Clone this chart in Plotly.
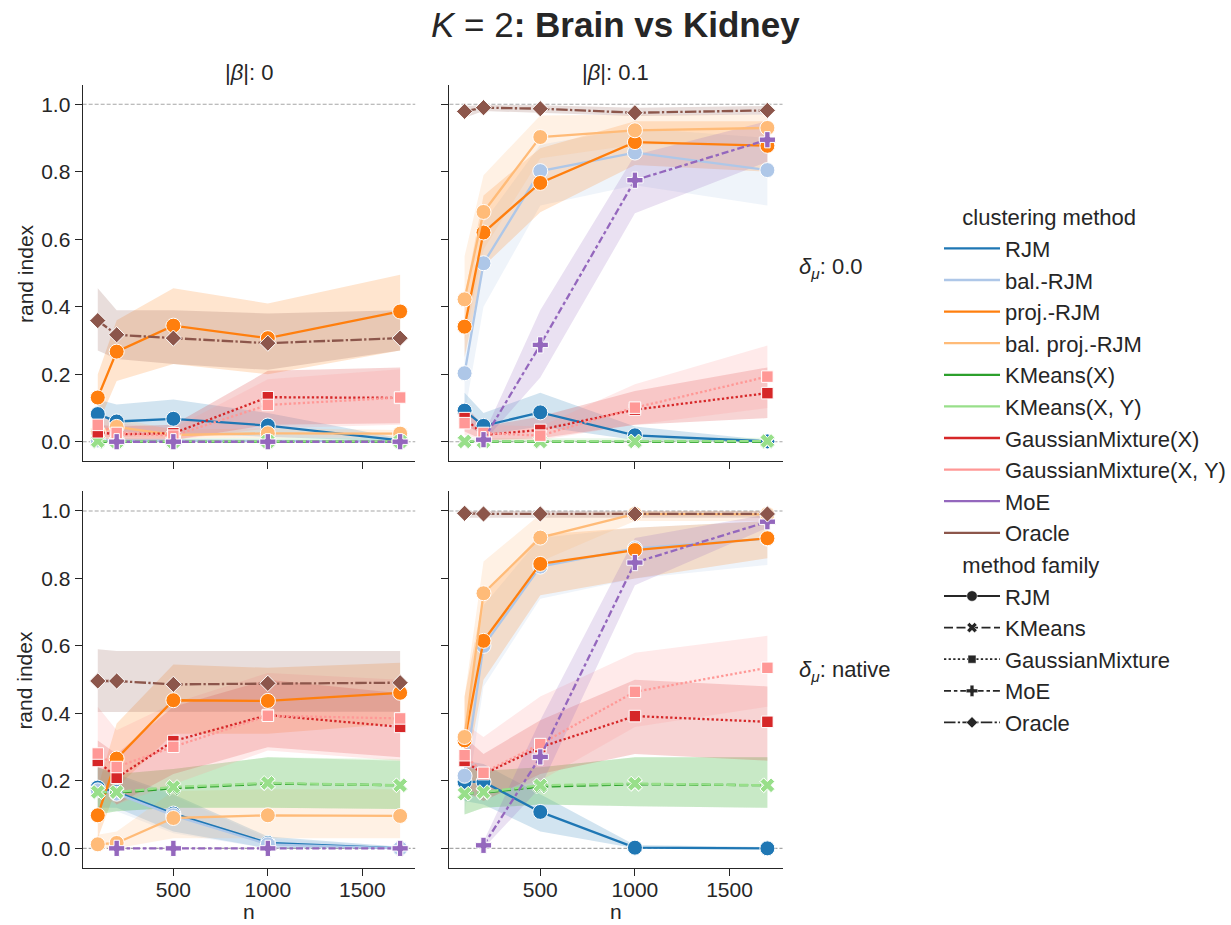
import plotly.graph_objects as go

# ---------------------------------------------------------------- data
N_VALUES = [100, 200, 500, 1000, 1700]

METHODS = ["RJM", "bal.-RJM", "proj.-RJM", "bal. proj.-RJM", "KMeans(X)",
           "KMeans(X, Y)", "GaussianMixture(X)", "GaussianMixture(X, Y)",
           "MoE", "Oracle"]
FAMILIES = ["RJM", "KMeans", "GaussianMixture", "MoE", "Oracle"]
METHOD_FAMILY = ["RJM", "RJM", "RJM", "RJM", "KMeans", "KMeans",
                 "GaussianMixture", "GaussianMixture", "MoE", "Oracle"]

# |beta| = 0, delta_mu = 0.0
MEAN_B0_D0 = {
    "RJM": [0.082, 0.060, 0.068, 0.048, 0.004],
    "bal.-RJM": [0.004, 0.003, 0.003, 0.002, 0.001],
    "proj.-RJM": [0.131, 0.267, 0.344, 0.307, 0.386],
    "bal. proj.-RJM": [0.030, 0.044, 0.020, 0.025, 0.024],
    "KMeans(X)": [0.000, 0.000, 0.000, 0.000, 0.000],
    "KMeans(X, Y)": [0.002, 0.001, 0.001, 0.001, 0.001],
    "GaussianMixture(X)": [0.028, 0.022, 0.025, 0.132, 0.130],
    "GaussianMixture(X, Y)": [0.050, 0.026, 0.018, 0.109, 0.131],
    "MoE": [None, 0.000, 0.000, 0.000, 0.000],
    "Oracle": [0.359, 0.317, 0.307, 0.292, 0.307],
}
LO_B0_D0 = {
    "RJM": [0.040, 0.030, 0.025, 0.015, 0.000],
    "bal.-RJM": [0.000, 0.000, 0.000, 0.000, 0.000],
    "proj.-RJM": [0.050, 0.180, 0.230, 0.200, 0.270],
    "bal. proj.-RJM": [0.010, 0.015, 0.010, 0.012, 0.012],
    "KMeans(X)": [0.000, 0.000, 0.000, 0.000, 0.000],
    "KMeans(X, Y)": [0.000, 0.000, 0.000, 0.000, 0.000],
    "GaussianMixture(X)": [0.010, 0.005, 0.005, 0.050, 0.055],
    "GaussianMixture(X, Y)": [0.020, 0.005, 0.005, 0.040, 0.050],
    "MoE": [None, 0.000, 0.000, 0.000, 0.000],
    "Oracle": [0.270, 0.245, 0.230, 0.213, 0.270],
}
HI_B0_D0 = {
    "RJM": [0.125, 0.110, 0.125, 0.085, 0.010],
    "bal.-RJM": [0.010, 0.008, 0.006, 0.005, 0.003],
    "proj.-RJM": [0.200, 0.360, 0.455, 0.410, 0.495],
    "bal. proj.-RJM": [0.060, 0.070, 0.035, 0.040, 0.035],
    "KMeans(X)": [0.005, 0.005, 0.005, 0.005, 0.005],
    "KMeans(X, Y)": [0.012, 0.010, 0.010, 0.012, 0.010],
    "GaussianMixture(X)": [0.050, 0.045, 0.050, 0.210, 0.220],
    "GaussianMixture(X, Y)": [0.085, 0.055, 0.040, 0.185, 0.215],
    "MoE": [None, 0.002, 0.002, 0.002, 0.002],
    "Oracle": [0.455, 0.390, 0.390, 0.380, 0.390],
}

# |beta| = 0.1, delta_mu = 0.0
MEAN_B1_D0 = {
    "RJM": [0.092, 0.047, 0.087, 0.019, 0.001],
    "bal.-RJM": [0.203, 0.529, 0.802, 0.857, 0.805],
    "proj.-RJM": [0.341, 0.620, 0.767, 0.888, 0.877],
    "bal. proj.-RJM": [0.422, 0.681, 0.903, 0.923, 0.930],
    "KMeans(X)": [0.000, 0.000, 0.000, 0.000, 0.000],
    "KMeans(X, Y)": [0.001, 0.001, 0.001, 0.001, 0.002],
    "GaussianMixture(X)": [0.070, 0.020, 0.035, 0.095, 0.144],
    "GaussianMixture(X, Y)": [0.055, 0.026, 0.018, 0.101, 0.193],
    "MoE": [None, 0.006, 0.287, 0.775, 0.895],
    "Oracle": [0.979, 0.990, 0.987, 0.975, 0.982],
}
LO_B1_D0 = {
    "RJM": [0.050, 0.020, 0.045, 0.005, 0.000],
    "bal.-RJM": [0.080, 0.400, 0.700, 0.760, 0.700],
    "proj.-RJM": [0.250, 0.520, 0.680, 0.820, 0.800],
    "bal. proj.-RJM": [0.300, 0.570, 0.840, 0.880, 0.880],
    "KMeans(X)": [0.000, 0.000, 0.000, 0.000, 0.000],
    "KMeans(X, Y)": [0.000, 0.000, 0.000, 0.000, 0.000],
    "GaussianMixture(X)": [0.030, 0.005, 0.010, 0.050, 0.070],
    "GaussianMixture(X, Y)": [0.020, 0.005, 0.005, 0.050, 0.100],
    "MoE": [None, 0.000, 0.190, 0.677, 0.830],
    "Oracle": [0.960, 0.980, 0.975, 0.965, 0.970],
}
HI_B1_D0 = {
    "RJM": [0.145, 0.085, 0.145, 0.045, 0.005],
    "bal.-RJM": [0.310, 0.650, 0.880, 0.930, 0.900],
    "proj.-RJM": [0.430, 0.730, 0.870, 0.950, 0.950],
    "bal. proj.-RJM": [0.550, 0.790, 0.967, 0.970, 0.970],
    "KMeans(X)": [0.004, 0.004, 0.004, 0.004, 0.004],
    "KMeans(X, Y)": [0.010, 0.010, 0.008, 0.010, 0.012],
    "GaussianMixture(X)": [0.110, 0.045, 0.075, 0.150, 0.220],
    "GaussianMixture(X, Y)": [0.090, 0.050, 0.045, 0.170, 0.285],
    "MoE": [None, 0.020, 0.390, 0.850, 0.950],
    "Oracle": [0.995, 0.998, 0.997, 0.990, 0.995],
}

# |beta| = 0, delta_mu = native
MEAN_B0_DN = {
    "RJM": [0.180, 0.167, 0.103, 0.016, 0.000],
    "bal.-RJM": [0.172, 0.162, 0.098, 0.012, 0.000],
    "proj.-RJM": [0.098, 0.266, 0.439, 0.437, 0.461],
    "bal. proj.-RJM": [0.012, 0.016, 0.090, 0.098, 0.096],
    "KMeans(X)": [0.167, 0.165, 0.178, 0.192, 0.187],
    "KMeans(X, Y)": [0.167, 0.167, 0.182, 0.194, 0.187],
    "GaussianMixture(X)": [0.259, 0.209, 0.318, 0.395, 0.360],
    "GaussianMixture(X, Y)": [0.281, 0.241, 0.301, 0.393, 0.385],
    "MoE": [None, 0.000, 0.000, 0.000, 0.000],
    "Oracle": [0.496, 0.496, 0.486, 0.489, 0.491],
}
LO_B0_DN = {
    "RJM": [0.120, 0.120, 0.050, 0.000, 0.000],
    "bal.-RJM": [0.110, 0.110, 0.045, 0.000, 0.000],
    "proj.-RJM": [0.030, 0.180, 0.340, 0.340, 0.370],
    "bal. proj.-RJM": [0.000, 0.000, 0.030, 0.030, 0.030],
    "KMeans(X)": [0.100, 0.110, 0.120, 0.120, 0.117],
    "KMeans(X, Y)": [0.100, 0.110, 0.120, 0.120, 0.117],
    "GaussianMixture(X)": [0.200, 0.130, 0.220, 0.300, 0.270],
    "GaussianMixture(X, Y)": [0.160, 0.130, 0.190, 0.290, 0.260],
    "MoE": [None, 0.000, 0.000, 0.000, 0.000],
    "Oracle": [0.404, 0.404, 0.405, 0.405, 0.405],
}
HI_B0_DN = {
    "RJM": [0.240, 0.220, 0.160, 0.035, 0.005],
    "bal.-RJM": [0.235, 0.215, 0.155, 0.030, 0.004],
    "proj.-RJM": [0.180, 0.370, 0.545, 0.535, 0.550],
    "bal. proj.-RJM": [0.040, 0.050, 0.170, 0.175, 0.175],
    "KMeans(X)": [0.240, 0.220, 0.235, 0.270, 0.260],
    "KMeans(X, Y)": [0.240, 0.220, 0.235, 0.270, 0.265],
    "GaussianMixture(X)": [0.320, 0.280, 0.420, 0.500, 0.460],
    "GaussianMixture(X, Y)": [0.420, 0.350, 0.430, 0.520, 0.500],
    "MoE": [None, 0.002, 0.002, 0.002, 0.002],
    "Oracle": [0.590, 0.585, 0.585, 0.585, 0.585],
}

# |beta| = 0.1, delta_mu = native
MEAN_B1_DN = {
    "RJM": [0.197, 0.197, 0.108, 0.002, 0.000],
    "bal.-RJM": [0.215, 0.600, 0.835, 0.889, 0.918],
    "proj.-RJM": [0.320, 0.615, 0.843, 0.884, 0.919],
    "bal. proj.-RJM": [0.330, 0.756, 0.921, 0.991, 0.990],
    "KMeans(X)": [0.162, 0.165, 0.183, 0.190, 0.187],
    "KMeans(X, Y)": [0.162, 0.167, 0.187, 0.192, 0.187],
    "GaussianMixture(X)": [0.259, 0.220, 0.300, 0.392, 0.375],
    "GaussianMixture(X, Y)": [0.276, 0.224, 0.309, 0.464, 0.535],
    "MoE": [None, 0.009, 0.271, 0.847, 0.968],
    "Oracle": [0.993, 0.991, 0.991, 0.991, 0.991],
}
LO_B1_DN = {
    "RJM": [0.140, 0.130, 0.050, 0.000, 0.000],
    "bal.-RJM": [0.100, 0.480, 0.740, 0.800, 0.840],
    "proj.-RJM": [0.200, 0.500, 0.750, 0.800, 0.860],
    "bal. proj.-RJM": [0.200, 0.600, 0.850, 0.970, 0.970],
    "KMeans(X)": [0.100, 0.120, 0.130, 0.125, 0.120],
    "KMeans(X, Y)": [0.100, 0.120, 0.130, 0.125, 0.120],
    "GaussianMixture(X)": [0.170, 0.140, 0.220, 0.280, 0.260],
    "GaussianMixture(X, Y)": [0.180, 0.160, 0.200, 0.360, 0.420],
    "MoE": [None, 0.000, 0.180, 0.780, 0.950],
    "Oracle": [0.980, 0.980, 0.980, 0.980, 0.980],
}
HI_B1_DN = {
    "RJM": [0.260, 0.250, 0.160, 0.010, 0.004],
    "bal.-RJM": [0.330, 0.720, 0.920, 0.950, 0.970],
    "proj.-RJM": [0.450, 0.750, 0.930, 0.950, 0.970],
    "bal. proj.-RJM": [0.450, 0.850, 0.990, 1.000, 1.000],
    "KMeans(X)": [0.240, 0.230, 0.240, 0.270, 0.270],
    "KMeans(X, Y)": [0.240, 0.230, 0.240, 0.270, 0.270],
    "GaussianMixture(X)": [0.330, 0.280, 0.380, 0.500, 0.480],
    "GaussianMixture(X, Y)": [0.370, 0.330, 0.450, 0.580, 0.630],
    "MoE": [None, 0.020, 0.380, 0.920, 0.990],
    "Oracle": [1.000, 1.000, 1.000, 1.000, 1.000],
}

# ---------------------------------------------------------------- styles
COLORS = {
    "RJM": "#1f77b4", "bal.-RJM": "#aec7e8", "proj.-RJM": "#ff7f0e",
    "bal. proj.-RJM": "#ffbb78", "KMeans(X)": "#2ca02c",
    "KMeans(X, Y)": "#98df8a", "GaussianMixture(X)": "#d62728",
    "GaussianMixture(X, Y)": "#ff9896", "MoE": "#9467bd", "Oracle": "#8c564b",
}
LW = 2.3
FAMILY_DASH = {
    "RJM": "solid",
    "KMeans": "9px,3.5px",
    "GaussianMixture": "2.3px,2.3px",
    "MoE": "7px,2.9px,3.5px,2.9px",
    "Oracle": "11.5px,2.3px,2.3px,2.3px",
}
FAMILY_SYMBOL = {"RJM": "circle", "KMeans": "x", "GaussianMixture": "square",
                 "MoE": "cross", "Oracle": "diamond"}
FAMILY_SIZE = {"RJM": 15, "KMeans": 13, "GaussianMixture": 11.5,
               "MoE": 13.5, "Oracle": 12.5}
INK = "#262626"
FONT = "Liberation Sans, Arial, Helvetica, sans-serif"
TICK_SIZE = 21
LABEL_SIZE = 21
LEGEND_SIZE = 22
FACET_SIZE = 22


def rgba(hex_color, alpha):
    h = hex_color.lstrip("#")
    r, g, b = int(h[0:2], 16), int(h[2:4], 16), int(h[4:6], 16)
    return f"rgba({r},{g},{b},{alpha})"


PANELS = [
    ("x", "y", MEAN_B0_D0, LO_B0_D0, HI_B0_D0),
    ("x2", "y2", MEAN_B1_D0, LO_B1_D0, HI_B1_D0),
    ("x3", "y3", MEAN_B0_DN, LO_B0_DN, HI_B0_DN),
    ("x4", "y4", MEAN_B1_DN, LO_B1_DN, HI_B1_DN),
]

fig = go.Figure()

for xa, ya, mean, lo, hi in PANELS:
    # confidence bands underneath every line
    for m in METHODS:
        pts = [(n, l, h) for n, l, h in zip(N_VALUES, lo[m], hi[m]) if l is not None]
        xs = [p[0] for p in pts] + [p[0] for p in reversed(pts)]
        ys = [p[2] for p in pts] + [p[1] for p in reversed(pts)]
        fig.add_trace(go.Scatter(
            x=xs, y=ys, xaxis=xa, yaxis=ya, mode="lines", fill="toself",
            fillcolor=rgba(COLORS[m], 0.2), line=dict(width=0),
            hoverinfo="skip", showlegend=False))
    # mean lines with markers
    for m, fam in zip(METHODS, METHOD_FAMILY):
        fig.add_trace(go.Scatter(
            x=N_VALUES, y=mean[m], xaxis=xa, yaxis=ya, mode="lines+markers",
            line=dict(color=COLORS[m], width=LW, dash=FAMILY_DASH[fam]),
            marker=dict(symbol=FAMILY_SYMBOL[fam], size=FAMILY_SIZE[fam],
                        color=COLORS[m], line=dict(color="white", width=1)),
            name=m, showlegend=False))

# legend entries: hue (clustering method) and style (method family)
GROUP_TITLE_FONT = dict(size=LEGEND_SIZE, color=INK, family=FONT)
for m in METHODS:
    fig.add_trace(go.Scatter(
        x=[None], y=[None], mode="lines", name=m,
        line=dict(color=COLORS[m], width=LW),
        legendgroup="hue",
        legendgrouptitle=dict(text="&nbsp;&nbsp;&nbsp;clustering method",
                              font=GROUP_TITLE_FONT)))
for f in FAMILIES:
    fig.add_trace(go.Scatter(
        x=[None], y=[None], mode="lines+markers", name=f,
        line=dict(color=INK, width=LW * 0.8, dash=FAMILY_DASH[f]),
        marker=dict(symbol=FAMILY_SYMBOL[f], size=FAMILY_SIZE[f] * 0.7,
                    color=INK, line=dict(color="white", width=0.5)),
        legendgroup="style",
        legendgrouptitle=dict(text="&nbsp;&nbsp;&nbsp;method family",
                              font=GROUP_TITLE_FONT)))

# ---------------------------------------------------------------- layout
X_DOMAINS = [[0.0672, 0.3376], [0.3654, 0.6362]]
Y_DOMAINS = [[0.5013, 0.9084], [0.0617, 0.4688]]
X_RANGE = [20, 1780]
Y_RANGE = [-0.058, 1.058]

axis_common = dict(
    showline=True, linecolor=INK, linewidth=1.25, ticks="outside",
    ticklen=7, tickwidth=1.25, tickcolor=INK, showgrid=False,
    zeroline=False, automargin=False,
    tickfont=dict(size=TICK_SIZE, color=INK, family=FONT),
)
label_font = dict(size=LABEL_SIZE, color=INK, family=FONT)

layout_axes = {}
for i, (row, col) in enumerate([(0, 0), (0, 1), (1, 0), (1, 1)]):
    k = "" if i == 0 else str(i + 1)
    layout_axes["xaxis" + k] = dict(
        axis_common, domain=X_DOMAINS[col], range=X_RANGE,
        tickvals=[500, 1000, 1500], showticklabels=(row == 1),
        ticklabelstandoff=-4, anchor="y" + k)
    layout_axes["yaxis" + k] = dict(
        axis_common, domain=Y_DOMAINS[row], range=Y_RANGE,
        tickvals=[0, 0.2, 0.4, 0.6, 0.8, 1.0], tickformat=".1f",
        showticklabels=(col == 0), anchor="x" + k)

shapes = []
for i in range(4):
    k = "" if i == 0 else str(i + 1)
    for yv in (0, 1):
        shapes.append(dict(
            type="line", xref=f"x{k} domain", yref="y" + k, x0=0, x1=1,
            y0=yv, y1=yv, layer="below",
            line=dict(color="#a6a6a6", width=1.1, dash="4px,2px")))

facet_font = dict(size=FACET_SIZE, color=INK, family=FONT)
annotations = [
    dict(text="<i>K</i> = 2<b>: Brain vs Kidney</b>", x=0.5, y=1 - 25 / 925,
         xref="paper", yref="paper", showarrow=False, xanchor="center",
         yanchor="middle", font=dict(size=35, color=INK, family=FONT)),
    dict(text="|<i>β</i>|: 0", x=sum(X_DOMAINS[0]) / 2, y=1 - 73 / 925,
         xref="paper", yref="paper", showarrow=False, xanchor="center",
         yanchor="middle", font=facet_font),
    dict(text="|<i>β</i>|: 0.1", x=sum(X_DOMAINS[1]) / 2, y=1 - 73 / 925,
         xref="paper", yref="paper", showarrow=False, xanchor="center",
         yanchor="middle", font=facet_font),
    dict(text="<i>δ</i><sub><i>μ</i></sub>: 0.0", x=798 / 1231,
         y=1 - 268 / 925, xref="paper", yref="paper", showarrow=False,
         xanchor="left", yanchor="middle", font=facet_font),
    dict(text="<i>δ</i><sub><i>μ</i></sub>: native", x=798 / 1231,
         y=1 - 671 / 925, xref="paper", yref="paper", showarrow=False,
         xanchor="left", yanchor="middle", font=facet_font),
]
# axis labels: "n" under each bottom panel, "rand index" left of each row
for dom in X_DOMAINS:
    annotations.append(dict(
        text="n", x=sum(dom) / 2, y=1 - 911 / 925, xref="paper",
        yref="paper", showarrow=False, xanchor="center", yanchor="middle",
        borderpad=0, font=label_font))
for dom in Y_DOMAINS:
    annotations.append(dict(
        text="rand index", x=25 / 1231, y=sum(dom) / 2, xref="paper",
        yref="paper", showarrow=False, xanchor="center", yanchor="middle",
        textangle=-90, font=label_font))

fig.update_layout(
    width=1231, height=925,
    margin=dict(l=0, r=0, t=0, b=0),
    paper_bgcolor="white", plot_bgcolor="white",
    font=dict(family=FONT, color=INK, size=TICK_SIZE),
    shapes=shapes, annotations=annotations,
    legend=dict(x=940 / 1231, y=1 - 196 / 925, xanchor="left", yanchor="top",
                font=dict(size=LEGEND_SIZE, color=INK, family=FONT),
                bgcolor="rgba(0,0,0,0)", tracegroupgap=0, itemwidth=56,
                traceorder="grouped"),
    **layout_axes,
)

fig.write_html("out.html")
